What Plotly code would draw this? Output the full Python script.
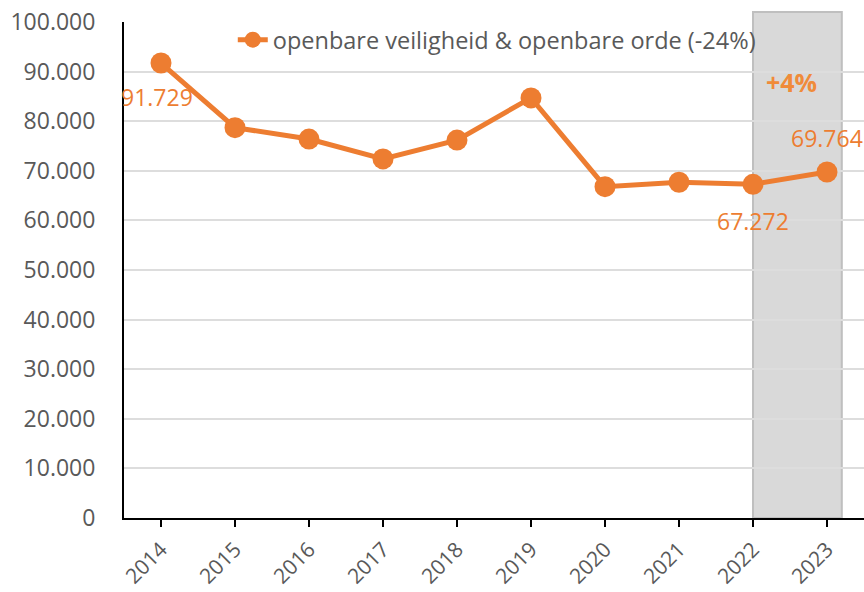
import plotly.graph_objects as go

years = ["2014", "2015", "2016", "2017", "2018", "2019", "2020", "2021", "2022", "2023"]
values = [91729, 78700, 76400, 72400, 76200, 84700, 66800, 67700, 67272, 69764]
# data labels shown in the reference: (index, text, pixel shift x, pixel shift y)
label_idx = [0, 8, 9]
label_text = ["91.729", "67.272", "69.764"]
label_dx = [-4, 0, 0]
label_dy = [-34, -37, 34]
series_name = "openbare veiligheid & openbare orde (-24%)"
change_label = "+4%"
change_y = 88000

ORANGE = "#ED7D31"
FONT = "Open Sans"

fig = go.Figure()
fig.add_trace(go.Scatter(
    x=years, y=values, mode="lines+markers", name=series_name,
    line=dict(color=ORANGE, width=5),
    marker=dict(color=ORANGE, size=21),
    cliponaxis=False,
))

for i, t, dx, dy in zip(label_idx, label_text, label_dx, label_dy):
    fig.add_annotation(x=i, y=values[i], xref="x", yref="y", text=t,
                       showarrow=False, xshift=dx, yshift=dy,
                       font=dict(color=ORANGE, size=23, family=FONT))

fig.add_shape(type="rect", xref="x", yref="paper", x0=8, x1=9.2, y0=0, y1=1.02,
              fillcolor="#D9D9D9", line=dict(color="#BFBFBF", width=2), layer="below")

fig.add_annotation(x=8.52, y=change_y, xref="x", yref="y", text="<b>" + change_label + "</b>",
                   showarrow=False, font=dict(color="#F08B3A", size=25, family=FONT))

fig.update_layout(
    width=864, height=592,
    margin=dict(l=124, r=0, t=22, b=74, autoexpand=False),
    paper_bgcolor="white", plot_bgcolor="white",
    separators=",.",
    font=dict(family=FONT, color="#595959", size=22),
    showlegend=True,
    legend=dict(x=0.147, y=0.964, xanchor="left", yanchor="middle", bgcolor="rgba(0,0,0,0)",
                font=dict(size=23.5, color="#595959", family=FONT)),
)
fig.update_xaxes(
    type="category", range=[-0.5, 9.5], automargin=False,
    showline=True, linecolor="black", linewidth=2,
    ticks="outside", ticklen=7, tickcolor="black", tickwidth=2,
    tickangle=-45, tickfont=dict(size=21, color="#595959", family=FONT),
    ticklabelstandoff=2,
    showgrid=False,
)
fig.update_yaxes(
    range=[0, 100000], dtick=10000, tickformat=",.0f", automargin=False,
    showline=True, linecolor="black", linewidth=2,
    showgrid=True, gridcolor="#DDDDDD", gridwidth=2,
    tickfont=dict(size=23, color="#595959", family=FONT),
    ticks="", ticklabelstandoff=22, zeroline=False,
)

fig.write_html("out.html", config={"displayModeBar": False},
               post_script="document.body.style.margin='0';document.body.style.overflow='hidden';")
